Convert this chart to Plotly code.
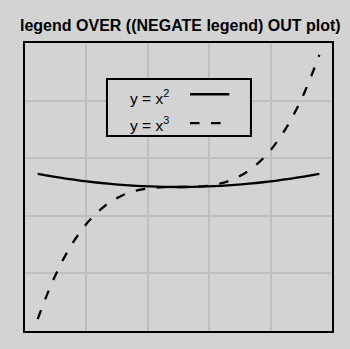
import plotly.graph_objects as go

# Sample points of the two curves
x_vals = [-10, -9, -8, -7, -6, -5, -4, -3, -2, -1, 0, 1, 2, 3, 4, 5, 6, 7, 8, 9, 10]
y_square = [100, 81, 64, 49, 36, 25, 16, 9, 4, 1, 0, 1, 4, 9, 16, 25, 36, 49, 64, 81, 100]
y_cube = [-1000, -729, -512, -343, -216, -125, -64, -27, -8, -1, 0,
          1, 8, 27, 64, 125, 216, 343, 512, 729, 1000]

series_names = ["y = x<sup>2</sup>", "y = x<sup>3</sup>"]
title_text = "<b>legend OVER ((NEGATE legend) OUT plot)</b>"

X_RANGE = [-10.9, 10.9]
Y_RANGE = [-1090, 1090]
N_DIV = 5

BG = "#d3d3d3"
GRID = "#bebebe"
FONT = "Liberation Sans, Arial, sans-serif"
DASH = "9.5px,11.5px"
LW = 2.3

fig = go.Figure()
fig.add_trace(go.Scatter(x=x_vals, y=y_square, mode="lines", name=series_names[0],
                         line=dict(color="black", width=LW, shape="spline"),
                         showlegend=False))
fig.add_trace(go.Scatter(x=x_vals, y=y_cube, mode="lines", name=series_names[1],
                         line=dict(color="black", width=LW, dash=DASH, shape="spline"),
                         showlegend=False))

x_step = (X_RANGE[1] - X_RANGE[0]) / N_DIV
y_step = (Y_RANGE[1] - Y_RANGE[0]) / N_DIV

axis_common = dict(showgrid=True, gridcolor=GRID, gridwidth=1.5, zeroline=False,
                   showticklabels=False, ticks="", showline=True, linecolor="black",
                   linewidth=2, mirror=True)

fig.update_xaxes(range=X_RANGE, tick0=X_RANGE[0], dtick=x_step, **axis_common)
fig.update_yaxes(range=Y_RANGE, tick0=Y_RANGE[0], dtick=y_step, **axis_common)

# Legend box drawn inside the plotting region
box = dict(x0=0.267, x1=0.736, y0=0.677, y1=0.875)
fig.add_shape(type="rect", xref="paper", yref="paper", **box,
              line=dict(color="black", width=2), fillcolor=BG, layer="above")

rows_y = [0.812, 0.718]
line_rows_y = [0.822, 0.722]
dashes = ["solid", DASH]
for name, ty, ly, dsh in zip(series_names, rows_y, line_rows_y, dashes):
    fig.add_annotation(xref="paper", yref="paper", x=0.336, y=ty, text=name,
                       showarrow=False, xanchor="left", yanchor="middle",
                       font=dict(family=FONT, size=15.5, color="black"))
    fig.add_shape(type="line", xref="paper", yref="paper", x0=0.5375, x1=0.6655,
                  y0=ly, y1=ly, line=dict(color="black", width=LW, dash=dsh),
                  layer="above")

fig.add_annotation(xref="paper", yref="paper", x=0.508, y=1 + 18 / 288,
                   text=title_text, showarrow=False, xanchor="center",
                   yanchor="middle", font=dict(family=FONT, size=16, color="black"))

fig.update_layout(width=350, height=349,
                  margin=dict(l=25, r=18, t=43, b=18),
                  paper_bgcolor=BG, plot_bgcolor=BG,
                  showlegend=False)

fig.write_html("out.html")
